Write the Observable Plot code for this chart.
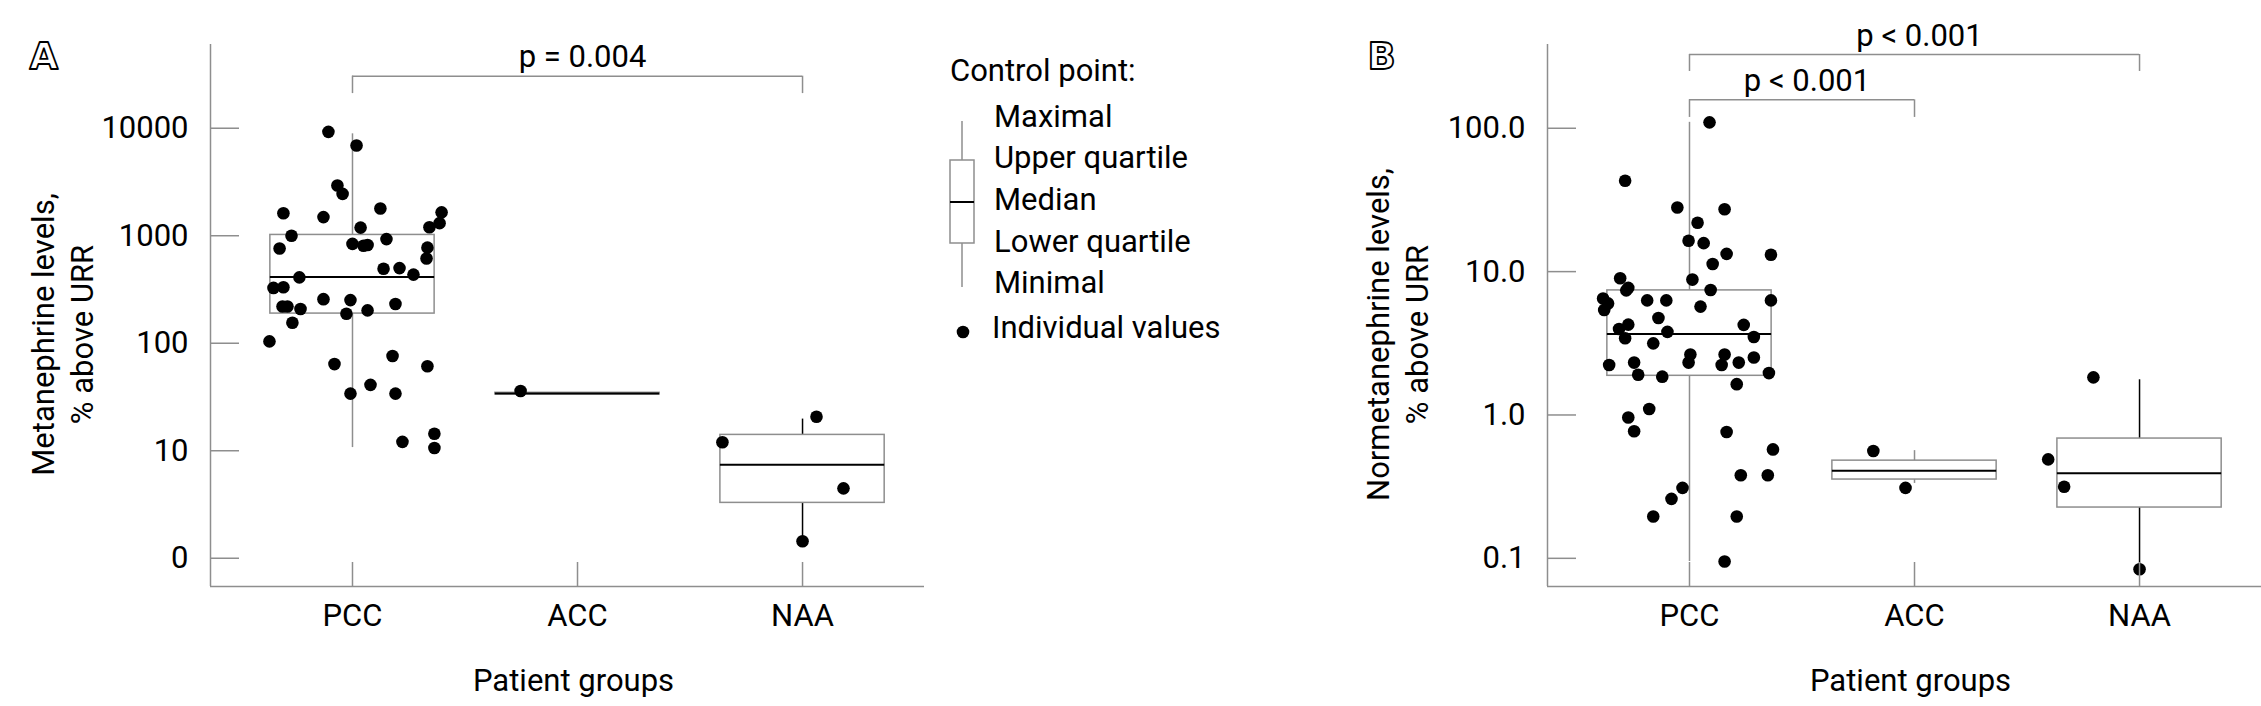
<!DOCTYPE html>
<html><head><meta charset="utf-8">
<script src="https://cdn.jsdelivr.net/npm/d3@7"></script>
<script src="https://cdn.jsdelivr.net/npm/@observablehq/plot@0.6"></script>
<style>
body{margin:0;background:#fff;}
#wrap{position:relative;width:2261px;height:706px;overflow:hidden;background:#fff;font-family:Roboto,sans-serif;}
#wrap > svg{position:absolute;top:0;}
</style></head><body><div id="wrap"></div>
<script>
const groups = ["PCC", "ACC", "NAA"];

// ---- Panel A: Metanephrine (% above URR) ----
const metaPCC = [9250, 6900, 2930, 2450, 1620, 1490, 1790, 1650, 1310, 1200, 1190, 1000, 930, 840, 806, 820, 760, 775, 615, 493, 500, 435, 410, 327, 332, 257, 252, 232, 220, 220, 208, 188, 202, 155, 104, 64, 76, 61, 41, 34, 34, 12.1, 14.4, 10.6];
const metaPCCJitter = [-0.107, 0.018, -0.067, -0.044, -0.307, -0.129, 0.124, 0.396, 0.387, 0.342, 0.036, -0.271, 0.151, 0.0, 0.049, 0.067, -0.324, 0.333, 0.329, 0.138, 0.209, 0.271, -0.236, -0.351, -0.307, -0.129, -0.009, 0.191, -0.311, -0.289, -0.231, -0.027, 0.067, -0.267, -0.369, -0.080, 0.178, 0.333, 0.080, -0.009, 0.191, 0.222, 0.364, 0.364];
const metaACC = [36];
const metaACCJitter = [-0.253];
const metaNAA = [20.7, 12.0, 4.47, 1.44];
const metaNAAJitter = [0.062, -0.356, 0.182, 0.0];
const metaMin = [10.7, 34, 1.5];
const metaQ1 = [192, 34, 3.33];
const metaMedian = [413, 34, 7.4];
const metaQ3 = [1000, 34, 13.8];
const metaMax = [8870, 34, 19.7];
const metaTicks = [1, 10, 100, 1000, 10000];
const metaTickLabels = ["0", "10", "100", "1000", "10000"];
const metaBracketFrom = [0], metaBracketTo = [2], metaBracketY = [30500], metaBracketDrop = [21000], metaBracketText = ["p = 0.004"];

// ---- Panel B: Normetanephrine (% above URR) ----
const normPCC = [110, 43, 28, 27.2, 21.9, 16.4, 15.8, 13.3, 13.1, 11.3, 9.0, 8.8, 7.7, 7.4, 7.45, 6.5, 6.0, 5.4, 6.3, 6.3, 6.3, 5.7, 4.75, 4.27, 3.98, 3.8, 4.25, 3.43, 3.5, 3.16, 2.64, 2.64, 2.52, 2.23, 2.32, 2.32, 2.23, 2.32, 1.91, 1.85, 1.96, 1.64, 1.10, 0.96, 0.77, 0.76, 0.575, 0.38, 0.38, 0.31, 0.26, 0.196, 0.196, 0.095];
const normPCCJitter = [0.089, -0.286, -0.054, 0.156, 0.036, -0.004, 0.063, 0.165, 0.362, 0.103, -0.308, 0.013, -0.272, -0.281, 0.094, -0.384, -0.362, -0.379, -0.188, -0.103, 0.362, 0.049, -0.138, -0.272, -0.313, -0.098, 0.241, -0.286, 0.286, -0.161, 0.004, 0.156, 0.286, -0.357, -0.246, -0.004, 0.143, 0.219, -0.228, -0.121, 0.353, 0.210, -0.179, -0.272, -0.246, 0.165, 0.371, 0.228, 0.348, -0.031, -0.080, -0.161, 0.210, 0.156];
const normACC = [0.56, 0.31];
const normACCJitter = [-0.183, -0.04];
const normNAA = [1.83, 0.49, 0.316, 0.084];
const normNAAJitter = [-0.205, -0.406, -0.335, 0.0];
const normMin = [0.095, 0.333, 0.084];
const normQ1 = [1.90, 0.359, 0.229];
const normMedian = [3.67, 0.408, 0.392];
const normQ3 = [7.3, 0.474, 0.676];
const normMax = [110, 0.564, 1.76];
const normTicks = [0.1, 1, 10, 100];
const normTickLabels = ["0.1", "1.0", "10.0", "100.0"];
const normBracketFrom = [0, 0], normBracketTo = [1, 2], normBracketY = [158, 327], normBracketDrop = [119, 249], normBracketText = ["p < 0.001", "p < 0.001"];

const legendItems = ["Maximal", "Upper quartile", "Median", "Lower quartile", "Minimal"];

const GRAY = "#8e8e8e";
const FONT = "Roboto";
const FS = 31;
const XDOM = [-0.631, 2.542];

function panel(o) {
  const boxes = groups.map((g, i) => ({i, g, min: o.min[i], q1: o.q1[i], med: o.med[i], q3: o.q3[i], max: o.max[i]}));
  const pts = [];
  o.values.forEach((vals, i) => vals.forEach((v, k) => pts.push({x: i + o.jitter[i][k], y: v})));
  const brackets = o.bFrom.map((f, k) => ({from: f, to: o.bTo[k], y: o.bY[k], drop: o.bDrop[k], text: o.bText[k], mid: (f + o.bTo[k]) / 2}));
  const drops = brackets.flatMap(b => [{x: b.from, y1: b.drop, y2: b.y}, {x: b.to, y1: b.drop, y2: b.y}]);
  const W = 0.365;
  const whiskerColor = d => d.g === "NAA" ? "#000" : GRAY;
  return Plot.plot({
    width: o.width, height: 706,
    marginLeft: o.marginLeft, marginRight: o.marginRight, marginTop: 44, marginBottom: 120,
    style: {fontFamily: FONT, fontSize: FS + "px", color: "#000", background: "transparent", overflow: "visible"},
    x: {type: "linear", domain: XDOM},
    y: {type: "log", domain: o.domain},
    marks: [
      Plot.ruleX(boxes, {x: "i", y1: "min", y2: "q1", stroke: whiskerColor, strokeWidth: 1.5}),
      Plot.ruleX(boxes, {x: "i", y1: "q3", y2: "max", stroke: whiskerColor, strokeWidth: 1.5}),
      Plot.rect(boxes, {x1: d => d.i - W, x2: d => d.i + W, y1: "q1", y2: "q3", fill: "white", stroke: GRAY, strokeWidth: 1.5, insetTop: -0.8, insetBottom: -0.8}),
      Plot.ruleY(boxes, {y: "med", x1: d => d.i - W, x2: d => d.i + W, stroke: "#000", strokeWidth: 2}),
      Plot.dot(pts, {x: "x", y: "y", r: 6.3, fill: "#000", stroke: "none"}),
      // axis lines
      Plot.ruleX([XDOM[0]], {stroke: GRAY, strokeWidth: 1.5}),
      Plot.ruleY([o.domain[0]], {stroke: GRAY, strokeWidth: 1.5}),
      // ticks (inward) and labels
      Plot.axisY(o.ticks, {tickSize: -29, fill: "none", stroke: GRAY, strokeWidth: 1.5, label: null}),
      Plot.axisY(o.ticks, {tickSize: 0, tickPadding: 22, tickFormat: d => o.tickLabels[o.ticks.indexOf(d)], label: null, fontSize: FS}),
      Plot.axisX([0, 1, 2], {tickSize: -24, fill: "none", stroke: GRAY, strokeWidth: 1.5, label: null}),
      Plot.axisX([0, 1, 2], {tickSize: 0, tickPadding: 17, tickFormat: i => groups[i], label: null, fontSize: FS}),
      // brackets
      Plot.ruleY(brackets, {y: "y", x1: "from", x2: "to", stroke: GRAY, strokeWidth: 1.5}),
      Plot.ruleX(drops, {x: "x", y1: "y1", y2: "y2", stroke: GRAY, strokeWidth: 1.5}),
      Plot.text(brackets, {x: "mid", y: "y", text: "text", dy: -9, dx: 5, lineAnchor: "bottom", fontSize: FS}),
      // axis titles
      Plot.text(["Patient groups"], {x: 1, frameAnchor: "bottom", dy: 104, dx: -4, lineAnchor: "bottom", fontSize: FS}),
      Plot.text([o.ylabel1], {frameAnchor: "left", rotate: -90, dx: o.ylDx1, dy: 19, lineAnchor: "bottom", textAnchor: "middle", fontSize: FS}),
      Plot.text([o.ylabel2], {frameAnchor: "left", rotate: -90, dx: o.ylDx2, dy: 19, lineAnchor: "bottom", textAnchor: "middle", fontSize: FS}),
      // panel letter (outlined)
      Plot.text([o.letter], {frameAnchor: "top-left", dx: o.letterDx, dy: 24, textAnchor: "start", lineAnchor: "bottom", fontSize: 37, fontWeight: "bold", fontFamily: "DejaVu Sans", fill: "white", stroke: "#000", strokeWidth: 1.8, paintOrder: "fill"})
    ]
  });
}

const wrap = document.getElementById("wrap");

const svgA = panel({
  width: 940, marginLeft: 210, marginRight: 16,
  domain: [0.546, 60100],
  values: [metaPCC, metaACC, metaNAA], jitter: [metaPCCJitter, metaACCJitter, metaNAAJitter],
  min: metaMin, q1: metaQ1, med: metaMedian, q3: metaQ3, max: metaMax,
  ticks: metaTicks, tickLabels: metaTickLabels,
  bFrom: metaBracketFrom, bTo: metaBracketTo, bY: metaBracketY, bDrop: metaBracketDrop, bText: metaBracketText,
  ylabel1: "Metanephrine levels,", ylabel2: "% above URR", ylDx1: -157, ylDx2: -118,
  letter: "A", letterDx: -181
});
svgA.style.left = "0px";
wrap.appendChild(svgA);

// Legend
const leg = d3.create("svg").attr("width", 360).attr("height", 706).style("left", "940px")
  .style("font-family", FONT).style("font-size", FS + "px");
leg.append("text").attr("x", 10).attr("y", 81).text("Control point:");
const itemBaselines = [127, 168, 210, 252, 293];
legendItems.forEach((t, k) => leg.append("text").attr("x", 54).attr("y", itemBaselines[k]).text(t));
leg.append("line").attr("x1", 22).attr("x2", 22).attr("y1", 121).attr("y2", 287).attr("stroke", GRAY).attr("stroke-width", 1.5);
leg.append("rect").attr("x", 10).attr("y", 160).attr("width", 24).attr("height", 83).attr("fill", "white").attr("stroke", GRAY).attr("stroke-width", 1.5);
leg.append("line").attr("x1", 10).attr("x2", 34).attr("y1", 202).attr("y2", 202).attr("stroke", "#000").attr("stroke-width", 2);
leg.append("circle").attr("cx", 23).attr("cy", 332).attr("r", 6.3).attr("fill", "#000");
leg.append("text").attr("x", 52).attr("y", 338).text("Individual values");
wrap.appendChild(leg.node());

const svgB = panel({
  width: 961, marginLeft: 247, marginRight: 0,
  domain: [0.0636, 384],
  values: [normPCC, normACC, normNAA], jitter: [normPCCJitter, normACCJitter, normNAAJitter],
  min: normMin, q1: normQ1, med: normMedian, q3: normQ3, max: normMax,
  ticks: normTicks, tickLabels: normTickLabels,
  bFrom: normBracketFrom, bTo: normBracketTo, bY: normBracketY, bDrop: normBracketDrop, bText: normBracketText,
  ylabel1: "Normetanephrine levels,", ylabel2: "% above URR", ylDx1: -159, ylDx2: -120,
  letter: "B", letterDx: -180
});
svgB.style.left = "1300px";
wrap.appendChild(svgB);
</script></body></html>
